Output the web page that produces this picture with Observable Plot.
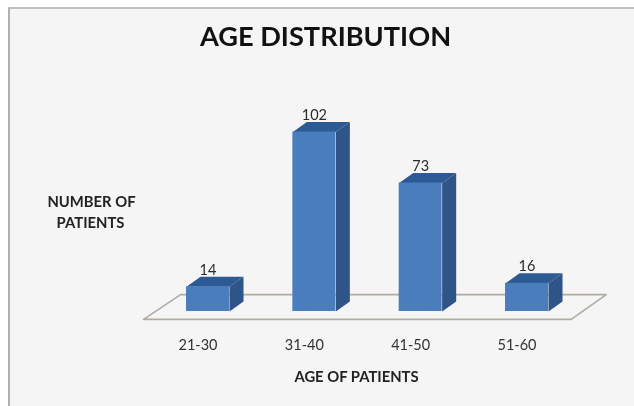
<!DOCTYPE html>
<html>
<head>
<meta charset="utf-8">
<script src="https://cdn.jsdelivr.net/npm/d3@7"></script>
<script src="https://cdn.jsdelivr.net/npm/@observablehq/plot@0.6"></script>
<style>
html,body{margin:0;padding:0;background:#fff;overflow:hidden}
#panel{position:absolute;left:8px;top:7px;width:626px;height:399px;background:#f5f5f5;border-left:2px solid #b0b0b0;border-top:2px solid #c0c0c0;box-sizing:border-box}
#chart{position:absolute;left:0;top:0;filter:blur(0.55px)}
#chart svg{background:transparent;display:block}
</style>
</head>
<body>
<div id="panel"></div>
<div id="chart"></div>
<script>
const ageGroups = ["21-30", "31-40", "41-50", "51-60"];
const patients = [14, 102, 73, 16];
const chartTitle = "AGE DISTRIBUTION";
const xTitle = "AGE OF PATIENTS";
const yTitleLines = ["NUMBER OF", "PATIENTS"];

const halfWidth = 0.202, depthX = 0.132, depthY = 5.7;
const idx = ageGroups.map((_, i) => i);
const table = idx.map(i => ({i, label: ageGroups[i], v: patients[i]}));

const sideFaces = table.flatMap(d => [
  [d.i + halfWidth, 0], [d.i + halfWidth + depthX, depthY],
  [d.i + halfWidth + depthX, d.v + depthY], [d.i + halfWidth, d.v]
].map(([x, y]) => ({x, y, z: d.i})));
const topFaces = table.flatMap(d => [
  [d.i - halfWidth, d.v], [d.i + halfWidth, d.v],
  [d.i + halfWidth + depthX, d.v + depthY], [d.i - halfWidth + depthX, d.v + depthY]
].map(([x, y]) => ({x, y, z: d.i})));
const floor = [[-0.606, -4.5], [3.416, -4.5], [3.745, 9.6], [-0.258, 9.6], [-0.606, -4.5]].map(([x, y]) => ({x, y}));

const font = "Lato, Carlito, 'Open Sans', sans-serif";
const plot = Plot.plot({
  width: 634,
  height: 406,
  marginTop: 0, marginRight: 0, marginLeft: 0, marginBottom: 71,
  style: {fontFamily: font, background: "transparent"},
  x: {type: "linear", domain: [0, 3], range: [207.5, 526.5]},
  y: {type: "linear", domain: [0, 102], range: [311, 131.5], axis: null},
  marks: [
    Plot.line(floor, {x: "x", y: "y", stroke: "#b0aca4", strokeWidth: 1.6}),
    Plot.line(sideFaces, {x: "x", y: "y", z: "z", fill: "#2f5488", stroke: "none"}),
    Plot.line(topFaces, {x: "x", y: "y", z: "z", fill: "#2c5a94", stroke: "none"}),
    Plot.rect(table, {x1: d => d.i - halfWidth, x2: d => d.i + halfWidth, y1: 0, y2: "v", fill: "#4a7dbb"}),
    Plot.text(table, {x: "i", y: "v", text: d => String(d.v), dy: -17, fontSize: 14.5, fill: "#2b2b2b"}),
    Plot.axisX({ticks: idx, tickFormat: i => ageGroups[i], tickSize: 0, tickPadding: 4, dx: -10, label: null, fontSize: 14.5, color: "#333"}),
    Plot.text([chartTitle], {frameAnchor: "top-left", dx: 325, dy: 37, textAnchor: "middle", lineAnchor: "middle", fontSize: 27.2, fontWeight: 700, fill: "#111"}),
    Plot.text([xTitle], {frameAnchor: "top-left", dx: 356, dy: 377, textAnchor: "middle", lineAnchor: "middle", fontSize: 14.8, fontWeight: 700, fill: "#222"}),
    Plot.text([yTitleLines[0]], {frameAnchor: "top-left", dx: 91, dy: 202, textAnchor: "middle", lineAnchor: "middle", fontSize: 14.8, fontWeight: 700, fill: "#222"}),
    Plot.text([yTitleLines[1]], {frameAnchor: "top-left", dx: 90, dy: 223, textAnchor: "middle", lineAnchor: "middle", fontSize: 14.8, fontWeight: 700, fill: "#222"})
  ]
});
document.getElementById("chart").appendChild(plot);
</script>
</body>
</html>
